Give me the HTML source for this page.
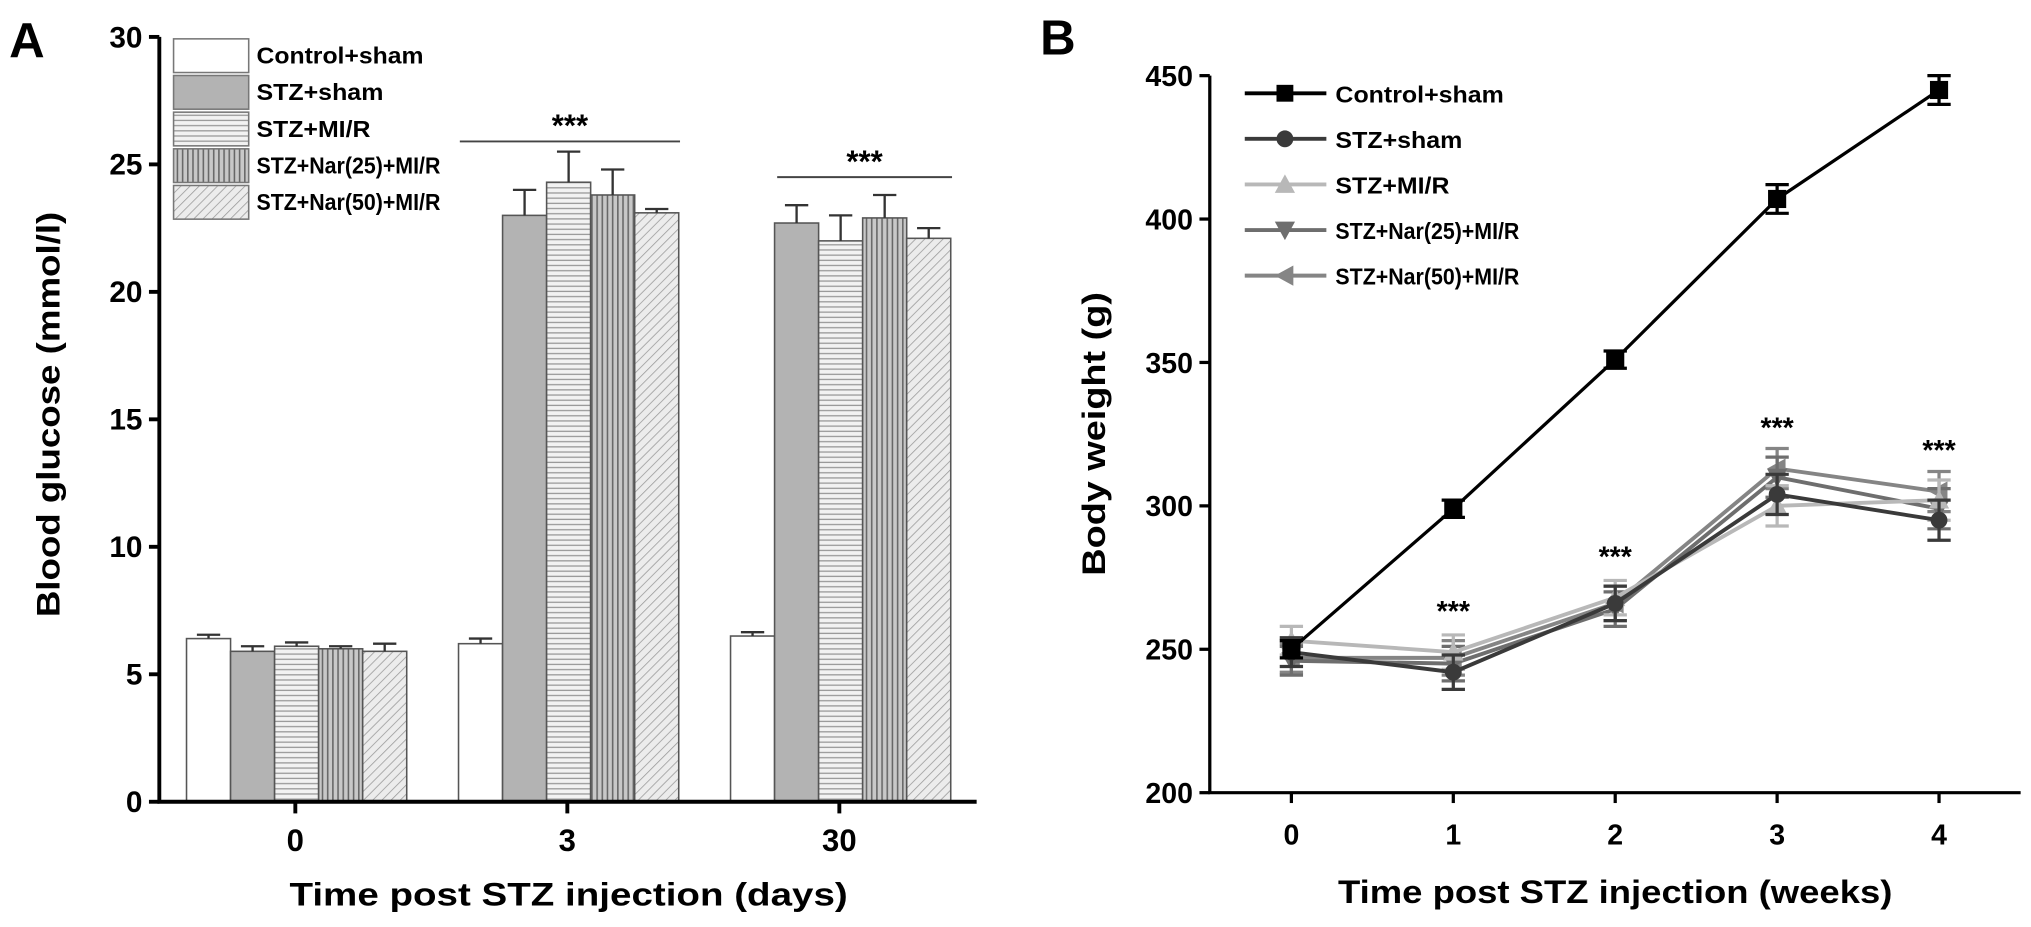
<!DOCTYPE html>
<html><head><meta charset="utf-8"><style>
html,body{margin:0;padding:0;background:#fff;overflow:hidden;}
svg{display:block;font-family:"Liberation Sans",sans-serif;}
</style></head><body>
<svg id="c" width="2031" height="927" viewBox="0 0 1568 715.7" preserveAspectRatio="none" xmlns="http://www.w3.org/2000/svg">
<defs>
<pattern id="pH" width="6" height="4" patternUnits="userSpaceOnUse"><rect width="6" height="4" fill="#f2f2f2"/><line x1="0" y1="1" x2="6" y2="1" stroke="#999" stroke-width="1"/></pattern>
<pattern id="pV" width="4" height="6" patternUnits="userSpaceOnUse"><rect width="4" height="6" fill="#c8c8c8"/><line x1="1" y1="0" x2="1" y2="6" stroke="#666" stroke-width="1.2"/></pattern>
<pattern id="pD" width="5" height="5" patternUnits="userSpaceOnUse" patternTransform="rotate(45)"><rect width="5" height="5" fill="#ececec"/><line x1="0" y1="0" x2="0" y2="5" stroke="#999" stroke-width="1.2"/></pattern>
</defs>
<g id="A"></g><g id="B"></g>
</svg>
<script>
// ---- Panel A data ----
const aGroups = ["0","3","30"];
const aSeries = ["Control+sham","STZ+sham","STZ+MI/R","STZ+Nar(25)+MI/R","STZ+Nar(50)+MI/R"];
const aVals = [[6.4,5.9,6.1,6.0,5.9],[6.2,23.0,24.3,23.8,23.1],[6.5,22.7,22.0,22.9,22.1]];
const aErr = [[0.15,0.2,0.15,0.1,0.3],[0.2,1.0,1.2,1.0,0.15],[0.15,0.7,1.0,0.9,0.4]];
const aTicks = [0,5,10,15,20,25,30];
// ---- Panel B data ----
const bWeeks = [0,1,2,3,4];
const bSeries = ["Control+sham","STZ+sham","STZ+MI/R","STZ+Nar(25)+MI/R","STZ+Nar(50)+MI/R"];
const bControl = [250,299,351,407,445];
const bSham = [249,242,266,304,295];
const bMIR = [253,249,268,300,302];
const bNar25 = [246,245,264,310,299];
const bNar50 = [247,247,266,313,305];
const bErrC = [3,3,3,5,5];
const bErrO = [5,6,6,7,7];
const bTicks = [200,250,300,350,400,450];

const NS="http://www.w3.org/2000/svg";
function mk(p,tag,at,txt){const e=document.createElementNS(NS,tag);for(const k in at)e.setAttribute(k,at[k]);if(txt!==undefined)e.textContent=txt;p.appendChild(e);return e;}

// ===== Panel A =====
const A=document.getElementById('A');
const ay=v=>619-v*(619-28.5)/30;
const gCenters=[229,439,649];
const bw=34;
const fills=["#fff","#b3b3b3","url(#pH)","url(#pV)","url(#pD)"];
let t;
t=mk(A,'text',{x:7,y:44,'font-size':38,'font-weight':'bold'},'A');

aGroups.forEach((g,gi)=>{
  aVals[gi].forEach((v,si)=>{
    const x=gCenters[gi]-2.5*bw+si*bw;
    const r=mk(A,'rect',{x:x,y:ay(v),width:bw,height:ay(0)-ay(v),fill:fills[si],stroke:'#555','stroke-width':1.2});
    
    const ex=x+bw/2, e=aErr[gi][si];
    const eb=mk(A,'path',{d:`M${ex},${ay(v)}V${ay(v+e)}M${ex-9},${ay(v+e)}H${ex+9}`,stroke:'#333','stroke-width':1.8,fill:'none'});
    
  });
});
let ax=mk(A,'path',{d:`M123,${ay(30)}V${ay(0)}H754`,stroke:'#000','stroke-width':3,fill:'none'});

aTicks.forEach(v=>{
  mk(A,'line',{x1:115,x2:123,y1:ay(v),y2:ay(v),stroke:'#000','stroke-width':3});
  t=mk(A,'text',{x:110,y:ay(v)+8,'font-size':23,'font-weight':'bold','text-anchor':'end'},v);
  
});
aGroups.forEach((g,gi)=>{
  mk(A,'line',{x1:gCenters[gi]-1,x2:gCenters[gi]-1,y1:ay(0),y2:ay(0)+9,stroke:'#000','stroke-width':3});
  t=mk(A,'text',{x:gCenters[gi]-1,y:657,'font-size':24,'font-weight':'bold','text-anchor':'middle'},g);
  
});
t=mk(A,'text',{x:439,y:699,'font-size':25,'font-weight':'bold','text-anchor':'middle',textLength:431,lengthAdjust:'spacingAndGlyphs'},'Time post STZ injection (days)');

t=mk(A,'text',{x:0,y:0,'font-size':25,'font-weight':'bold','text-anchor':'middle',textLength:313,lengthAdjust:'spacingAndGlyphs',transform:'translate(46,320) rotate(-90)'},'Blood glucose (mmol/l)');

[[355,525,ay(25.9)],[600,735,ay(24.5)]].forEach(s=>{
  const l=mk(A,'line',{x1:s[0],x2:s[1],y1:s[2],y2:s[2],stroke:'#444','stroke-width':1.5});
  
  t=mk(A,'text',{x:(s[0]+s[1])/2,y:s[2]-4,'font-size':24,'font-weight':'bold','text-anchor':'middle'},'***');
  
});
aSeries.forEach((n,i)=>{
  const y=30+i*28.3;
  const r=mk(A,'rect',{x:134,y:y,width:58,height:26,fill:fills[i],stroke:'#777','stroke-width':1.2});
  
  const L=[129,98,88,142,142][i];
  t=mk(A,'text',{x:198,y:y+19,'font-size':18,'font-weight':'bold',textLength:L,lengthAdjust:'spacingAndGlyphs'},n);
  
});

// ===== Panel B =====
const B=document.getElementById('B');
const by=v=>612-(v-200)*(612-58.4)/250;
const bx=w=>997+w*125;
t=mk(B,'text',{x:803,y:42,'font-size':38,'font-weight':'bold'},'B');

ax=mk(B,'path',{d:`M934,${by(450)}V${by(200)}H1560`,stroke:'#000','stroke-width':2.5,fill:'none'});

bTicks.forEach(v=>{
  mk(B,'line',{x1:926,x2:934,y1:by(v),y2:by(v),stroke:'#000','stroke-width':2.5});
  t=mk(B,'text',{x:921,y:by(v)+8,'font-size':22,'font-weight':'bold','text-anchor':'end'},v);
  
});
bWeeks.forEach(w=>{
  mk(B,'line',{x1:bx(w),x2:bx(w),y1:by(200),y2:by(200)+8,stroke:'#000','stroke-width':2.5});
  t=mk(B,'text',{x:bx(w),y:652,'font-size':22,'font-weight':'bold','text-anchor':'middle'},w);
  
});
t=mk(B,'text',{x:1247,y:697,'font-size':25,'font-weight':'bold','text-anchor':'middle',textLength:428,lengthAdjust:'spacingAndGlyphs'},'Time post STZ injection (weeks)');

t=mk(B,'text',{x:0,y:0,'font-size':25,'font-weight':'bold','text-anchor':'middle',textLength:219,lengthAdjust:'spacingAndGlyphs',transform:'translate(853,335) rotate(-90)'},'Body weight (g)');

const sData=[bControl,bSham,bMIR,bNar25,bNar50];
const sCol=["#000","#3a3a3a","#b8b8b8","#6e6e6e","#858585"];
const sMark=["square","circle","up","down","left"];
function marker(p,type,x,y,c,s){
  let e;
  if(type==='square')e=mk(p,'rect',{x:x-s,y:y-s,width:2*s,height:2*s,fill:c});
  else if(type==='circle')e=mk(p,'circle',{cx:x,cy:y,r:s,fill:c});
  else if(type==='up')e=mk(p,'polygon',{points:`${x},${y-s*1.2} ${x-s*1.2},${y+s} ${x+s*1.2},${y+s}`,fill:c});
  else if(type==='down')e=mk(p,'polygon',{points:`${x},${y+s*1.2} ${x-s*1.2},${y-s} ${x+s*1.2},${y-s}`,fill:c});
  else e=mk(p,'polygon',{points:`${x-s*1.2},${y} ${x+s},${y-s*1.2} ${x+s},${y+s*1.2}`,fill:c});
  return e;
}
for(let si=sData.length-1;si>=0;si--){
  const d=sData[si], err=si===0?bErrC:bErrO;
  const g=mk(B,'g',{});
  
  const pl=mk(g,'polyline',{points:d.map((v,i)=>bx(bWeeks[i])+','+by(v)).join(' '),fill:'none',stroke:sCol[si],'stroke-width':si===0?2.5:3});
  
  d.forEach((v,i)=>{
    const x=bx(bWeeks[i]),e=err[i];
    const eb=mk(g,'path',{d:`M${x},${by(v+e)}V${by(v-e)}M${x-9},${by(v+e)}H${x+9}M${x-9},${by(v-e)}H${x+9}`,stroke:sCol[si],'stroke-width':2.5,fill:'none'});
    
    const m=marker(g,sMark[si],x,by(v),sCol[si],si===0?7:6.5);
    
  });
}
bWeeks.slice(1).forEach(w=>{
  const top=Math.max(...sData.slice(1).map(d=>d[w]))+10;
  t=mk(B,'text',{x:bx(w),y:by(top)-2,'font-size':22,'font-weight':'bold','text-anchor':'middle'},'***');
  
});
bSeries.forEach((n,i)=>{
  const y=72+i*35.2;
  const g=mk(B,'g',{});
  
  mk(g,'line',{x1:961,x2:1024,y1:y,y2:y,stroke:sCol[i],'stroke-width':3});
  marker(g,sMark[i],992,y,sCol[i],6.5);
  const L=[130,98,88,142,142][i];
  mk(g,'text',{x:1031,y:y+7,'font-size':18,'font-weight':'bold',textLength:L,lengthAdjust:'spacingAndGlyphs'},n);
});
</script>
</body></html>
